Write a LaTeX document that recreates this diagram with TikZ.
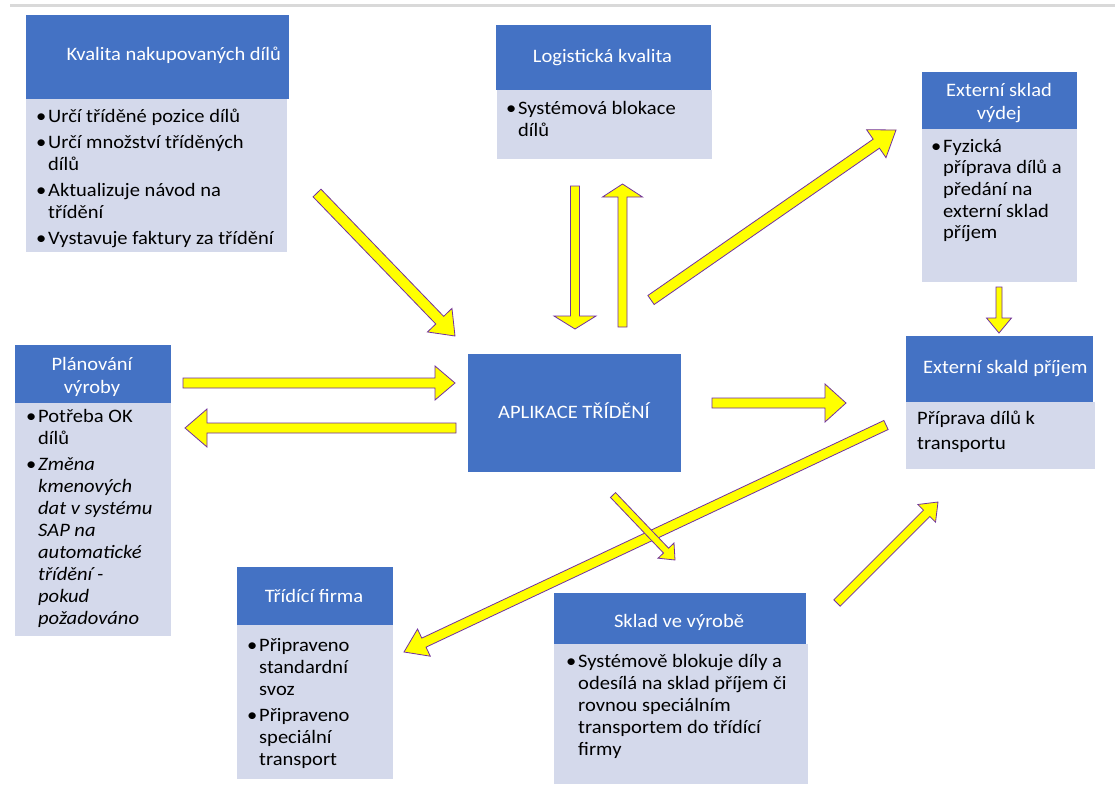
\documentclass[tikz,border=0pt]{standalone}
\usepackage{fontspec}
\setmainfont[FakeStretch=1.08]{Carlito}
\usetikzlibrary{calc}
\definecolor{hdrblue}{RGB}{68,114,196}
\definecolor{bodyblue}{RGB}{212,217,235}
\definecolor{arrowfill}{RGB}{255,255,0}
\definecolor{arrowline}{RGB}{112,48,160}
\definecolor{toplinecol}{RGB}{217,217,217}
\newlength\bind
\setlength\bind{12pt}
\newcommand\bitem[1]{\par\noindent\hangindent=\bind\hangafter=1\makebox[\bind][l]{\textbullet}#1}
\newcommand\bodytext[2][22]{\parbox[t]{300pt}{\fontsize{19}{#1}\selectfont\raggedright\let\\\newline\parskip=4pt #2}}
\newcommand\hdrtext[1]{\parbox[t]{240pt}{\centering\fontsize{19}{23}\selectfont #1}}
\newcommand\yblockarrow[5]{%
  \coordinate (bH) at ($(#2)!#5pt!(#1)$);
  \draw[yarrow] ($(#1)!#3pt!90:(#2)$) -- ($(bH)!#3pt!-90:(#1)$) -- ($(bH)!#4pt!-90:(#1)$)
    -- (#2) -- ($(bH)!#4pt!90:(#1)$) -- ($(bH)!#3pt!90:(#1)$) -- ($(#1)!#3pt!-90:(#2)$) -- cycle;}
\tikzset{
  hdr/.style={fill=hdrblue, draw=none, inner sep=0pt, anchor=north west},
  bodyb/.style={fill=bodyblue, draw=none, inner sep=0pt, anchor=north west},
  htxt/.style={text=white, inner sep=0pt, anchor=base},
  htxtw/.style={text=white, inner sep=0pt, anchor=base west, font=\fontsize{19}{23}\selectfont},
  btxt/.style={text=black, inner sep=0pt, anchor=base west},
  yarrow/.style={fill=arrowfill, draw=arrowline, line width=0.8pt, line join=miter}
}
\begin{document}
\begin{tikzpicture}[x=1pt,y=-1pt]
\useasboundingbox (0,0) rectangle (1115,789);
\fill[white] (0,0) rectangle (1115,789);
\draw[toplinecol, line width=3pt] (10,5.5) -- (1115,5.5);

% bodies
\node[bodyb, minimum width=261pt, minimum height=153pt] (kvB) at (26,99) {};
\node[bodyb, minimum width=215pt, minimum height=69pt] (lkB) at (497,90) {};
\node[bodyb, minimum width=155pt, minimum height=153pt] (evB) at (922,129) {};
\node[bodyb, minimum width=189pt, minimum height=67pt] (epB) at (906,402) {};
\node[bodyb, minimum width=156pt, minimum height=233pt] (pvB) at (15,403) {};
\node[bodyb, minimum width=156pt, minimum height=154pt] (tfB) at (237,625) {};
\node[bodyb, minimum width=254pt, minimum height=140pt] (svB) at (554,644) {};
% headers
\node[hdr, minimum width=263pt, minimum height=84pt] (kvH) at (26,15) {};
\node[hdr, minimum width=215pt, minimum height=65pt] (lkH) at (496,25) {};
\node[hdr, minimum width=155pt, minimum height=57pt] (evH) at (922,72) {};
\node[hdr, minimum width=187pt, minimum height=66pt] (epH) at (906,336) {};
\node[hdr, minimum width=156pt, minimum height=58pt] (pvH) at (15,345) {};
\node[hdr, minimum width=213pt, minimum height=118pt] (app) at (468,354) {};
\node[hdr, minimum width=156pt, minimum height=58pt] (tfH) at (237,567) {};
\node[hdr, minimum width=252pt, minimum height=51pt] (svH) at (554,593) {};

% header texts
\node[htxtw] (kvHt) at (66.5,61) {Kvalita nakupovaných dílů};
\node[htxt] (lkHt) at (602.5,63) {\hdrtext{Logistická kvalita}};
\node[htxt] (evHt) at (999,97) {\hdrtext{Externí sklad\\výdej}};
\node[htxtw] (epHt) at (923,373) {Externí skald příjem};
\node[htxt] (pvHt) at (92,370) {\hdrtext{Plánování\\výroby}};
\node[htxt] (appt) at (574,418) {\hdrtext{APLIKACE TŘÍDĚNÍ}};
\node[htxt] (tfHt) at (314,602) {\hdrtext{Třídící firma}};
\node[htxt] (svHt) at (679,627) {\hdrtext{Sklad ve výrobě}};

% body texts
\node[btxt] (kvBt) at (36,122) {\bodytext{\bitem{Určí tříděné pozice dílů}\bitem{Určí množství tříděných\\dílů}\bitem{Aktualizuje návod na\\třídění}\bitem{Vystavuje faktury za třídění}}};
\node[btxt] (lkBt) at (506,114) {\bodytext{\bitem{Systémová blokace\\dílů}}};
\node[btxt] (evBt) at (931,152) {\bodytext[21.7]{\bitem{Fyzická\\příprava dílů a\\předání na\\externí sklad\\příjem}}};
\node[btxt] (epBt) at (917,424) {\bodytext[25]{Příprava dílů k\\transportu}};
\node[btxt] (pvBt) at (26,422) {\bodytext{\bitem{Potřeba OK\\dílů}\bitem{\textit{Změna\\kmenových\\dat v systému\\SAP na\\automatické\\třídění -\\pokud\\požadováno}}}};
\node[btxt] (tfBt) at (247,651) {\bodytext{\bitem{Připraveno\\standardní\\svoz}\bitem{Připraveno\\speciální\\transport}}};
\node[btxt] (svBt) at (566,667) {\bodytext{\bitem{Systémově blokuje díly a\\odesílá na sklad příjem či\\rovnou speciálním\\transportem do třídící\\firmy}}};

% arrow end points
\coordinate (a1s) at (317,193);   \coordinate (a1e) at (455,336);
\coordinate (a2s) at (575,186);   \coordinate (a2e) at (575,329);
\coordinate (a3s) at (622.5,327); \coordinate (a3e) at (622.5,184);
\coordinate (a4s) at (651,300);   \coordinate (a4e) at (896,130);
\coordinate (a5s) at (999,287);   \coordinate (a5e) at (999,333);
\coordinate (a6s) at (183,383);   \coordinate (a6e) at (455,383);
\coordinate (a7s) at (456,428);   \coordinate (a7e) at (185,428);
\coordinate (a8s) at (712,403);   \coordinate (a8e) at (846,403);
\coordinate (a9s) at (886,425);   \coordinate (a9e) at (404,652);
\coordinate (a10s) at (613,495);  \coordinate (a10e) at (675,560);
\coordinate (a11s) at (837,603);  \coordinate (a11e) at (938,502);

\yblockarrow{a1s}{a1e}{5.5}{17}{22}
\yblockarrow{a2s}{a2e}{4.5}{21}{13}
\yblockarrow{a3s}{a3e}{4.5}{20}{13}
\yblockarrow{a4s}{a4e}{5.5}{17}{24}
\yblockarrow{a5s}{a5e}{3}{12.5}{15}
\yblockarrow{a6s}{a6e}{5}{17}{20}
\yblockarrow{a7s}{a7e}{5}{19}{22}
\yblockarrow{a8s}{a8e}{5}{19}{21}
\yblockarrow{a9s}{a9e}{5}{15}{22}
\yblockarrow{a10s}{a10e}{3.5}{11}{13}
\yblockarrow{a11s}{a11e}{4.5}{12.5}{16}
\end{tikzpicture}
\end{document}
